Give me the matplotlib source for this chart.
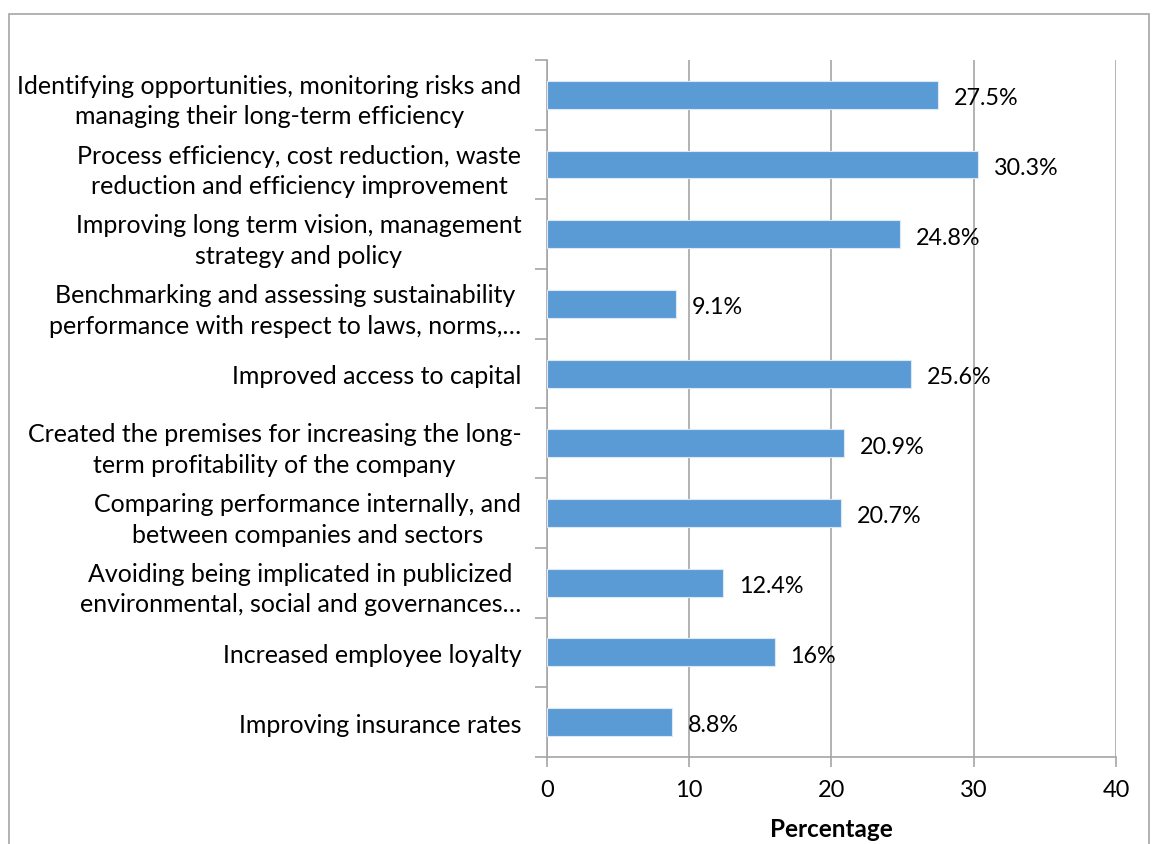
import matplotlib.pyplot as plt
from matplotlib.patches import Rectangle

plt.rcParams['font.family'] = ['Lato', 'DejaVu Sans']

categories = [
    "Identifying opportunities, monitoring risks and\nmanaging their long-term efficiency",
    "Process efficiency, cost reduction, waste\nreduction and efficiency improvement",
    "Improving long term vision, management\nstrategy and policy",
    "Benchmarking and assessing sustainability\nperformance with respect to laws, norms,…",
    "Improved access to capital",
    "Created the premises for increasing the long-\nterm profitability of the company",
    "Comparing performance internally, and\nbetween companies and sectors",
    "Avoiding being implicated in publicized\nenvironmental, social and governances…",
    "Increased employee loyalty",
    "Improving insurance rates",
]
values = [27.5, 30.3, 24.8, 9.1, 25.6, 20.9, 20.7, 12.4, 16, 8.8]
value_labels = ["27.5%", "30.3%", "24.8%", "9.1%", "25.6%", "20.9%", "20.7%", "12.4%", "16%", "8.8%"]
x_ticks = [0, 10, 20, 30, 40]

fig = plt.figure(figsize=(11.53, 8.45), dpi=100)
ax = fig.add_axes([0.4744, 0.1030, 0.4935, 0.8248])

# outer chart border
fig.patches.append(Rectangle((9 / 1153, -0.1), 1140 / 1153, 1.1 - 15 / 845,
                             transform=fig.transFigure, fill=False,
                             edgecolor='#a6a6a6', linewidth=1.2))

pos = list(range(len(categories)))
ax.barh(pos, values, height=0.4, color='#5b9bd5', edgecolor='#dce8f5',
        linewidth=0.8, zorder=3)

for p, v, lab in zip(pos, values, value_labels):
    ax.text(v + 1.1, p + 0.04, lab, va='center', ha='left', fontsize=16.8, zorder=4)

ax.set_ylim(len(categories) - 0.5, -0.5)
ax.set_xlim(0, 40)
ax.set_xticks(x_ticks)
ax.set_yticks(pos)
ax.set_yticklabels(categories, fontsize=18, ha='right', multialignment='center',
                   linespacing=1.4)
ax.set_yticks([p - 0.5 for p in pos] + [len(pos) - 0.5], minor=True)
ax.tick_params(axis='y', which='major', length=0, pad=18.5)
ax.tick_params(axis='y', which='minor', length=9, color='#a6a6a6', width=1.2)
ax.tick_params(axis='x', length=7, color='#a6a6a6', width=1.2, labelsize=17, pad=9)

ax.grid(axis='x', color='#a6a6a6', linewidth=1.2, zorder=0)
for side in ['top', 'right']:
    ax.spines[side].set_visible(False)
for side in ['left', 'bottom']:
    ax.spines[side].set_color('#a6a6a6')
    ax.spines[side].set_linewidth(1.2)

ax.set_xlabel("Percentage", fontsize=17.5, fontweight='bold', labelpad=12)

fig.savefig("out.png", dpi=100)
